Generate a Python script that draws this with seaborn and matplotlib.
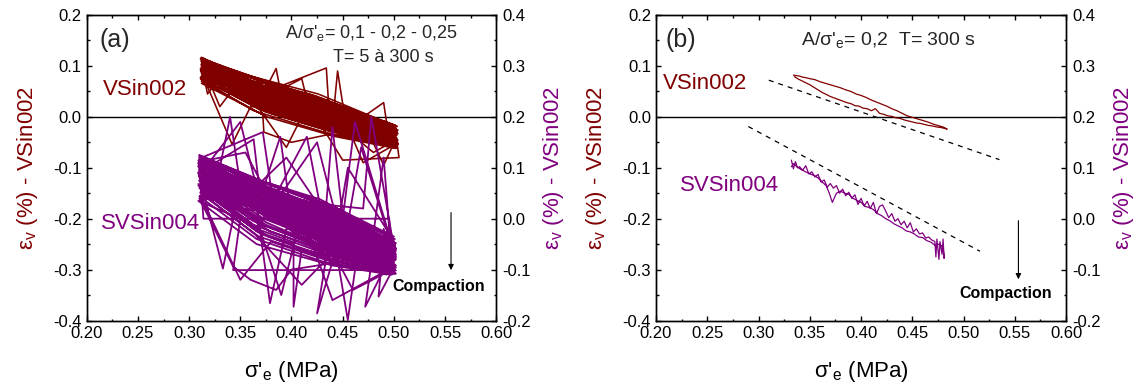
import matplotlib
matplotlib.use("Agg")
import matplotlib.pyplot as plt
from matplotlib.ticker import MultipleLocator, FormatStrFormatter
import pandas as pd
import seaborn as sns

# ---------------------------------------------------------------------------
# Data: (sigma'_e [MPa], eps_v [%]) pairs along each recorded path
# VSin002 values are read on the left axis, SVSin004 values on the right axis
# ---------------------------------------------------------------------------

# (a) A/sigma'e = 0,1 - 0,2 - 0,25 ; T = 5 to 300 s  -- VSin002 (left axis)
vsin002_a = [
    (0.312, 0.116), (0.372, 0.056), (0.440, 0.011), (0.503, -0.018), (0.418, 0.042),
    (0.313, 0.112), (0.370, 0.050), (0.438, 0.006), (0.502, -0.022), (0.421, 0.038),
    (0.312, 0.108), (0.375, 0.046), (0.442, 0.002), (0.503, -0.028), (0.416, 0.032),
    (0.314, 0.114), (0.368, 0.054), (0.436, 0.009), (0.501, -0.020), (0.424, 0.041),
    (0.312, 0.104), (0.318, 0.045), (0.328, 0.072), (0.373, 0.042), (0.444, -0.002),
    (0.503, -0.032), (0.419, 0.028),
    (0.313, 0.100), (0.377, 0.038), (0.439, -0.006), (0.502, -0.038), (0.422, 0.022),
    (0.312, 0.110), (0.371, 0.049), (0.441, 0.004), (0.504, -0.026), (0.415, 0.035),
    (0.311, 0.095), (0.374, 0.033), (0.437, -0.012), (0.502, -0.043), (0.490, -0.095),
    (0.475, -0.030), (0.420, 0.017),
    (0.312, 0.090), (0.369, 0.027), (0.440, -0.016), (0.445, 0.090), (0.452, 0.000),
    (0.503, -0.048), (0.423, 0.012),
    (0.313, 0.106), (0.376, 0.044), (0.443, 0.000), (0.501, -0.034), (0.417, 0.026),
    (0.312, 0.085), (0.372, 0.022), (0.438, -0.020), (0.503, -0.052), (0.470, -0.090),
    (0.455, -0.020), (0.421, 0.008),
    (0.314, 0.098), (0.370, 0.036), (0.385, 0.095), (0.392, 0.020), (0.442, -0.008),
    (0.502, -0.040), (0.418, 0.020),
    (0.312, 0.080), (0.375, 0.016), (0.436, -0.026), (0.503, -0.056), (0.424, 0.004),
    (0.313, 0.102), (0.330, 0.020), (0.345, 0.060), (0.373, 0.040), (0.441, -0.004),
    (0.502, -0.030), (0.416, 0.030),
    (0.312, 0.092), (0.371, 0.030), (0.439, -0.014), (0.504, -0.046), (0.420, 0.014),
    (0.311, 0.075), (0.374, 0.010), (0.440, -0.030), (0.473, 0.004), (0.490, 0.028),
    (0.495, -0.040), (0.502, -0.058), (0.422, 0.001),
    (0.312, 0.088), (0.368, 0.025), (0.437, -0.018), (0.503, -0.050), (0.505, -0.080),
    (0.450, -0.085), (0.430, -0.020), (0.418, 0.010),
    (0.313, 0.113), (0.376, 0.052), (0.443, 0.008), (0.501, -0.021), (0.423, 0.039),
    (0.312, 0.070), (0.372, 0.004), (0.373, -0.030), (0.400, -0.050), (0.438, -0.034),
    (0.502, -0.060), (0.419, -0.002),
    (0.314, 0.096), (0.370, 0.034), (0.410, 0.075), (0.418, 0.010), (0.441, -0.010),
    (0.503, -0.042), (0.421, 0.018),
    (0.312, 0.109), (0.375, 0.047), (0.439, 0.003), (0.502, -0.027), (0.417, 0.034),
    (0.313, 0.083), (0.342, -0.054), (0.360, 0.020), (0.371, 0.020), (0.436, -0.022),
    (0.504, -0.054), (0.424, 0.006),
    (0.312, 0.101), (0.373, 0.039), (0.442, -0.005), (0.503, -0.036), (0.420, 0.024),
    (0.311, 0.078), (0.369, 0.014), (0.395, -0.060), (0.410, 0.000), (0.440, -0.028),
    (0.502, -0.057), (0.422, 0.003),
    (0.312, 0.117), (0.374, 0.058), (0.444, 0.013), (0.501, -0.016), (0.418, 0.044),
    (0.313, 0.094), (0.372, 0.032), (0.438, -0.012), (0.503, -0.044), (0.480, -0.070),
    (0.462, -0.040), (0.421, 0.016),
    (0.312, 0.066), (0.376, 0.000), (0.441, -0.038), (0.502, -0.062), (0.423, -0.004),
    (0.314, 0.107), (0.370, 0.045), (0.434, 0.096), (0.437, 0.001), (0.503, -0.030),
    (0.416, 0.030),
    (0.312, 0.087), (0.373, 0.024), (0.443, -0.019), (0.504, -0.051), (0.420, 0.009),
    (0.313, 0.111), (0.371, 0.050), (0.440, 0.005), (0.502, -0.024), (0.419, 0.037),
    (0.312, 0.115), (0.366, 0.060), (0.430, 0.020), (0.502, -0.019), (0.426, 0.045),
    (0.313, 0.105), (0.380, 0.040), (0.446, -0.006), (0.503, -0.033), (0.412, 0.035),
    (0.312, 0.099), (0.362, 0.046), (0.434, -0.004), (0.501, -0.039), (0.428, 0.018),
    (0.311, 0.091), (0.379, 0.022), (0.447, -0.024), (0.503, -0.049), (0.414, 0.018),
    (0.312, 0.103), (0.367, 0.048), (0.432, 0.002), (0.502, -0.035), (0.427, 0.022),
    (0.313, 0.086), (0.378, 0.016), (0.445, -0.028), (0.504, -0.053), (0.413, 0.014),
    (0.312, 0.112), (0.365, 0.058), (0.433, 0.014), (0.501, -0.023), (0.426, 0.038),
    (0.314, 0.079), (0.381, 0.006), (0.448, -0.034), (0.503, -0.058), (0.411, 0.008),
    (0.312, 0.097), (0.364, 0.042), (0.431, -0.006), (0.502, -0.041), (0.428, 0.016),
    (0.313, 0.108), (0.379, 0.042), (0.446, 0.000), (0.503, -0.029), (0.412, 0.040),
    (0.312, 0.089), (0.366, 0.030), (0.434, -0.016), (0.501, -0.047), (0.425, 0.010),
    (0.311, 0.114), (0.377, 0.050), (0.445, 0.006), (0.503, -0.019), (0.413, 0.046),
    (0.312, 0.073), (0.363, 0.012), (0.432, -0.030), (0.502, -0.061), (0.427, -0.006),
    (0.313, 0.104), (0.380, 0.036), (0.447, -0.008), (0.504, -0.033), (0.414, 0.032),
    (0.312, 0.093), (0.367, 0.036), (0.435, -0.010), (0.502, -0.045), (0.426, 0.012),
    (0.312, 0.116), (0.378, 0.054), (0.444, 0.010), (0.501, -0.017), (0.415, 0.046),
    (0.313, 0.082), (0.365, 0.020), (0.433, -0.024), (0.503, -0.055), (0.424, 0.002),
    (0.312, 0.110),
]

# (a) SVSin004 (right axis)
svsin004_a = [
    (0.310, 0.125), (0.370, 0.075), (0.440, 0.025), (0.500, -0.035), (0.420, 0.035),
    (0.311, 0.118), (0.325, 0.050), (0.340, 0.200), (0.352, 0.040), (0.366, 0.060),
    (0.436, 0.005), (0.498, -0.050), (0.424, 0.025),
    (0.309, 0.110), (0.374, 0.045), (0.442, -0.010), (0.501, -0.060), (0.417, 0.015),
    (0.312, 0.122), (0.368, 0.070), (0.438, 0.015), (0.499, -0.045), (0.478, 0.200),
    (0.470, 0.020), (0.421, 0.030),
    (0.310, 0.100), (0.372, 0.030), (0.444, -0.025), (0.502, -0.070), (0.418, 0.005),
    (0.311, 0.105), (0.365, 0.040), (0.379, -0.166), (0.395, -0.020), (0.437, -0.015),
    (0.497, -0.065), (0.425, 0.010),
    (0.309, 0.090), (0.333, -0.098), (0.345, 0.020), (0.376, 0.015), (0.441, -0.040),
    (0.500, -0.080), (0.419, -0.005),
    (0.310, 0.115), (0.369, 0.055), (0.439, 0.000), (0.501, -0.055), (0.422, 0.020),
    (0.312, 0.080), (0.373, 0.000), (0.443, -0.055), (0.455, -0.199), (0.465, -0.060),
    (0.498, -0.090), (0.416, -0.015),
    (0.310, 0.095), (0.367, 0.022), (0.436, -0.032), (0.502, -0.075), (0.462, 0.190),
    (0.450, 0.000), (0.423, 0.000),
    (0.311, 0.070), (0.375, -0.015), (0.440, -0.065), (0.499, -0.095), (0.420, -0.025),
    (0.309, 0.108), (0.371, 0.050), (0.389, 0.161), (0.400, 0.000), (0.438, -0.005),
    (0.500, -0.062), (0.418, 0.012),
    (0.310, 0.060), (0.366, -0.025), (0.402, -0.050), (0.402, -0.173), (0.410, -0.060),
    (0.442, -0.075), (0.501, -0.100), (0.424, -0.032),
    (0.312, 0.085), (0.374, 0.008), (0.437, -0.048), (0.497, -0.085), (0.421, -0.010),
    (0.310, 0.120), (0.370, 0.065), (0.441, 0.010), (0.425, -0.186), (0.445, -0.050),
    (0.502, -0.048), (0.419, 0.028),
    (0.311, 0.050), (0.368, -0.035), (0.439, -0.082), (0.500, -0.105), (0.423, -0.040),
    (0.309, 0.102), (0.372, 0.035), (0.443, -0.020), (0.498, -0.068), (0.472, -0.173),
    (0.480, -0.060), (0.417, 0.008),
    (0.310, 0.075), (0.376, -0.008), (0.436, -0.060), (0.501, -0.092), (0.485, -0.153),
    (0.490, -0.040), (0.422, -0.020),
    (0.312, 0.112), (0.369, 0.052), (0.440, -0.002), (0.499, -0.058), (0.420, 0.018),
    (0.310, 0.040), (0.343, -0.094), (0.360, -0.120), (0.385, -0.140), (0.400, -0.100),
    (0.438, -0.088), (0.502, -0.108), (0.425, -0.048),
    (0.311, 0.092), (0.363, 0.156), (0.371, 0.018), (0.442, -0.036), (0.500, -0.078),
    (0.418, -0.002),
    (0.309, 0.065), (0.367, -0.020), (0.415, 0.161), (0.437, -0.070), (0.497, -0.098),
    (0.421, -0.028),
    (0.310, 0.124), (0.373, 0.072), (0.441, 0.020), (0.501, -0.040), (0.419, 0.032),
    (0.311, 0.082), (0.314, 0.000), (0.4955, 0.000), (0.4955, -0.060), (0.499, -0.088),
    (0.423, -0.012),
    (0.312, 0.055), (0.370, -0.030), (0.439, -0.078), (0.502, -0.102), (0.420, -0.036),
    (0.310, 0.098), (0.374, 0.025), (0.443, -0.028), (0.500, -0.072), (0.495, -0.101),
    (0.343, -0.101), (0.350, 0.000),
    (0.309, 0.035), (0.366, -0.050), (0.440, -0.092), (0.498, -0.110), (0.424, -0.052),
    (0.311, 0.088), (0.350, 0.190), (0.372, 0.012), (0.436, -0.044), (0.501, -0.082),
    (0.418, -0.008),
    (0.310, 0.106), (0.368, 0.042), (0.442, -0.012), (0.499, -0.064), (0.422, 0.014),
    (0.312, 0.072), (0.375, -0.012), (0.438, -0.062), (0.500, -0.094), (0.497, -0.080),
    (0.501, -0.050), (0.498, -0.100), (0.502, -0.060), (0.419, -0.022),
    (0.310, 0.116), (0.371, 0.058), (0.441, 0.002), (0.501, -0.052), (0.423, 0.022),
    (0.311, 0.062), (0.369, -0.022), (0.437, -0.072), (0.499, -0.099), (0.490, -0.020),
    (0.493, -0.110), (0.420, -0.030),
    (0.310, 0.122), (0.362, 0.078), (0.432, 0.030), (0.499, -0.038), (0.428, 0.038),
    (0.311, 0.112), (0.355, 0.130), (0.380, 0.035), (0.448, -0.020), (0.501, -0.058),
    (0.412, 0.022),
    (0.309, 0.104), (0.364, 0.048), (0.430, -0.004), (0.498, -0.066), (0.427, 0.004),
    (0.310, 0.094), (0.378, 0.010), (0.447, -0.045), (0.502, -0.080), (0.468, 0.140),
    (0.455, -0.010), (0.413, 0.000),
    (0.312, 0.086), (0.363, 0.020), (0.433, -0.040), (0.500, -0.086), (0.426, -0.012),
    (0.310, 0.118), (0.372, 0.170), (0.381, 0.048), (0.446, -0.004), (0.499, -0.050),
    (0.414, 0.030),
    (0.311, 0.078), (0.365, 0.004), (0.390, -0.150), (0.405, -0.030), (0.431, -0.055),
    (0.501, -0.090), (0.428, -0.020),
    (0.309, 0.068), (0.379, -0.025), (0.448, -0.072), (0.498, -0.098), (0.412, -0.022),
    (0.310, 0.109), (0.362, 0.056), (0.395, 0.120), (0.434, 0.004), (0.502, -0.058),
    (0.427, 0.012),
    (0.312, 0.058), (0.377, -0.035), (0.445, -0.085), (0.500, -0.104), (0.415, -0.032),
    (0.310, 0.097), (0.366, 0.032), (0.432, -0.022), (0.440, 0.180), (0.452, -0.030),
    (0.499, -0.072), (0.426, -0.004),
    (0.311, 0.045), (0.350, -0.120), (0.380, -0.045), (0.447, -0.090), (0.501, -0.108),
    (0.413, -0.044),
    (0.309, 0.114), (0.364, 0.062), (0.433, 0.008), (0.498, -0.046), (0.428, 0.024),
    (0.310, 0.083), (0.378, 0.000), (0.446, -0.058), (0.502, -0.092), (0.440, -0.160),
    (0.414, -0.014),
    (0.312, 0.066), (0.363, -0.012), (0.431, -0.064), (0.500, -0.100), (0.427, -0.026),
    (0.310, 0.101), (0.381, 0.022), (0.425, 0.150), (0.448, -0.032), (0.499, -0.076),
    (0.412, 0.004),
    (0.311, 0.052), (0.365, -0.032), (0.410, -0.130), (0.434, -0.080), (0.501, -0.106),
    (0.426, -0.040),
    (0.309, 0.091), (0.379, 0.010), (0.445, -0.046), (0.498, -0.086), (0.490, 0.120),
    (0.480, -0.030), (0.415, -0.008),
    (0.310, 0.074), (0.362, -0.004), (0.432, -0.058), (0.502, -0.096), (0.460, -0.140),
    (0.428, -0.018),
    (0.312, 0.120), (0.377, 0.058), (0.447, 0.006), (0.455, 0.100), (0.500, -0.044),
    (0.413, 0.036),
    (0.310, 0.044), (0.366, -0.040), (0.433, -0.086), (0.499, -0.108), (0.427, -0.046),
    (0.311, 0.110),
]

# (b) A/sigma'e = 0,2 ; T = 300 s  -- VSin002 (left axis), one load/unload loop
vsin002_b = [
    (0.334, 0.082), (0.337, 0.081), (0.340, 0.080), (0.343, 0.078), (0.346, 0.077),
    (0.350, 0.075), (0.355, 0.073), (0.360, 0.069), (0.365, 0.066), (0.370, 0.063),
    (0.375, 0.060), (0.380, 0.057), (0.385, 0.053), (0.390, 0.050), (0.395, 0.045),
    (0.400, 0.042), (0.405, 0.038), (0.410, 0.033), (0.415, 0.029), (0.420, 0.025),
    (0.425, 0.021), (0.430, 0.016), (0.435, 0.012), (0.440, 0.007), (0.445, 0.002),
    (0.450, -0.001), (0.455, -0.004), (0.460, -0.007), (0.465, -0.010), (0.470, -0.014),
    (0.475, -0.017), (0.480, -0.020), (0.484, -0.024),
    (0.482, -0.023), (0.478, -0.021), (0.474, -0.020), (0.470, -0.018), (0.466, -0.017),
    (0.462, -0.015), (0.458, -0.013), (0.454, -0.012), (0.450, -0.010), (0.446, -0.008),
    (0.442, -0.006), (0.438, -0.003), (0.434, -0.002), (0.430, 0.001), (0.426, 0.002),
    (0.422, 0.005), (0.418, 0.007), (0.414, 0.016), (0.410, 0.012), (0.406, 0.016),
    (0.402, 0.017), (0.398, 0.021), (0.394, 0.022), (0.390, 0.026), (0.386, 0.028),
    (0.382, 0.031), (0.378, 0.034), (0.374, 0.037), (0.370, 0.040), (0.366, 0.044),
    (0.362, 0.048), (0.358, 0.053), (0.354, 0.058), (0.350, 0.063), (0.346, 0.067),
    (0.342, 0.071), (0.338, 0.075), (0.335, 0.079),
]

# (b) SVSin004 (right axis)
svsin004_b = [
    (0.332, 0.115), (0.334, 0.098), (0.336, 0.112), (0.338, 0.100), (0.340, 0.102),
    (0.343, 0.095), (0.346, 0.104), (0.349, 0.088), (0.352, 0.092), (0.355, 0.082),
    (0.358, 0.087), (0.361, 0.072), (0.364, 0.076), (0.367, 0.062), (0.370, 0.069),
    (0.373, 0.060), (0.376, 0.065), (0.379, 0.050), (0.382, 0.058), (0.385, 0.045),
    (0.388, 0.052), (0.391, 0.040), (0.394, 0.047), (0.397, 0.028), (0.400, 0.040),
    (0.403, 0.025), (0.406, 0.034), (0.409, 0.020), (0.412, 0.032), (0.415, 0.010),
    (0.418, 0.024), (0.421, 0.027), (0.424, 0.015), (0.427, 0.002), (0.430, 0.010),
    (0.433, -0.005), (0.436, 0.000), (0.439, -0.012), (0.442, -0.005), (0.445, -0.018),
    (0.448, -0.008), (0.451, -0.026), (0.454, -0.020), (0.457, -0.030), (0.460, -0.028),
    (0.463, -0.038), (0.466, -0.036), (0.469, -0.042), (0.472, -0.045), (0.473, -0.075),
    (0.474, -0.040), (0.476, -0.080), (0.477, -0.045), (0.479, -0.070), (0.480, -0.040),
    (0.481, -0.078),
    (0.480, -0.055), (0.476, -0.050), (0.472, -0.052), (0.468, -0.046), (0.464, -0.043),
    (0.460, -0.037), (0.456, -0.036), (0.452, -0.030), (0.448, -0.026), (0.444, -0.024),
    (0.440, -0.018), (0.436, -0.014), (0.432, -0.010), (0.428, -0.004), (0.424, 0.000),
    (0.420, 0.006), (0.416, 0.010), (0.412, 0.018), (0.408, 0.022), (0.404, 0.024),
    (0.400, 0.032), (0.396, 0.036), (0.392, 0.040), (0.388, 0.048), (0.384, 0.050),
    (0.380, 0.054), (0.376, 0.050), (0.372, 0.032), (0.369, 0.050), (0.366, 0.065),
    (0.362, 0.072), (0.358, 0.080), (0.354, 0.085), (0.350, 0.088), (0.346, 0.092),
    (0.342, 0.096), (0.338, 0.101), (0.334, 0.108), (0.332, 0.102),
]

# (b) trend lines: VSin002 on the left axis, SVSin004 on the right axis
trend_vsin002_b = [(0.310, 0.072), (0.535, -0.084)]
trend_svsin004_b = [(0.290, 0.181), (0.516, -0.064)]

# ---------------------------------------------------------------------------
RED = "#800000"
PURPLE = "#800080"

sns.set_theme(style="ticks")
plt.rcParams["font.family"] = ["Liberation Sans", "DejaVu Sans"]
plt.rcParams["axes.unicode_minus"] = False
plt.rcParams["mathtext.default"] = "regular"

fig = plt.figure(figsize=(11.38, 3.87), dpi=100)


def frame(points):
    return pd.DataFrame(points, columns=["sigma", "eps"])


def style_axes(ax, ax2):
    ax.set_xlim(0.2, 0.6)
    ax.set_ylim(-0.4, 0.2)
    ax2.set_ylim(-0.2, 0.4)
    ax.xaxis.set_major_locator(MultipleLocator(0.05))
    ax.xaxis.set_minor_locator(MultipleLocator(0.025))
    ax.xaxis.set_major_formatter(FormatStrFormatter("%.2f"))
    for a in (ax, ax2):
        a.yaxis.set_major_locator(MultipleLocator(0.1))
        a.yaxis.set_minor_locator(MultipleLocator(0.05))
        a.yaxis.set_major_formatter(FormatStrFormatter("%.1f"))
        for s in a.spines.values():
            s.set_linewidth(1.0)
            s.set_color("black")
    ax.tick_params(axis="x", which="both", direction="in", top=True, bottom=True,
                   labelsize=12, pad=4, color="black", labelcolor="black")
    ax.tick_params(axis="y", which="both", direction="in", left=True, right=False,
                   labelsize=12, pad=3.5, color="black", labelcolor="black")
    ax2.tick_params(axis="y", which="both", direction="in", right=True, left=False,
                    labelsize=12, pad=4.5, color="black", labelcolor="black")
    for a in (ax, ax2):
        a.tick_params(which="major", length=3.6, width=1.0)
        a.tick_params(which="minor", length=1.8, width=1.0)
    ax.set_xlabel(r"σ'$_\mathregular{e}$ (MPa)", fontsize=16, color="black")
    ax.set_ylabel(r"ε$_\mathregular{v}$ (%) - VSin002", fontsize=16, color=RED)
    ax2.set_ylabel(r"ε$_\mathregular{v}$ (%) - VSin002", fontsize=16, color=PURPLE)
    ax.xaxis.set_label_coords(0.5, -0.125)
    ax.yaxis.set_label_coords(-0.115, 0.5)
    ax2.yaxis.set_label_coords(1.11, 0.5)
    ax.axhline(0.0, color="black", lw=1.0, zorder=1)
    ax.grid(False)
    ax2.grid(False)


def compaction(ax, x, y0, y1, ty):
    ax.annotate("", xy=(x, y1), xytext=(x, y0),
                arrowprops=dict(arrowstyle="-|>", color="black", lw=0.8,
                                mutation_scale=8, shrinkA=0, shrinkB=0))
    ax.text(x - 0.012, ty, "Compaction", fontsize=11.5, fontweight="bold",
            ha="center", va="center", color="black")


def trend(points, ax):
    sns.lineplot(data=frame(points), x="sigma", y="eps", sort=False, estimator=None,
                 color="black", lw=0.9, ax=ax, zorder=2)
    ax.lines[-1].set_dashes((4, 4))


# ---------------- panel (a) ----------------
ax_a = fig.add_axes([0.0762, 0.1718, 0.3599, 0.7894])
ax_a2 = ax_a.twinx()
sns.lineplot(data=frame(vsin002_a), x="sigma", y="eps", sort=False, estimator=None,
             color=RED, lw=1.15, ax=ax_a, zorder=2)
sns.lineplot(data=frame(svsin004_a), x="sigma", y="eps", sort=False, estimator=None,
             color=PURPLE, lw=1.3, ax=ax_a2, zorder=2)
style_axes(ax_a, ax_a2)
ax_a.text(0.212, 0.151, "(a)", fontsize=18, ha="left", va="center")
ax_a.text(0.216, 0.054, "VSin002", fontsize=16, color=RED, ha="left", va="center")
ax_a.text(0.214, -0.210, "SVSin004", fontsize=16, color=PURPLE, ha="left", va="center")
ax_a.text(0.478, 0.165, r"A/σ'$_\mathregular{e}$= 0,1 - 0,2 - 0,25", fontsize=13,
          ha="center", va="center")
ax_a.text(0.490, 0.116, "T= 5 à 300 s", fontsize=13, ha="center", va="center")
compaction(ax_a, 0.5558, -0.188, -0.301, -0.333)

# ---------------- panel (b) ----------------
ax_b = fig.add_axes([0.5765, 0.1718, 0.3603, 0.7894])
ax_b2 = ax_b.twinx()
sns.lineplot(data=frame(vsin002_b), x="sigma", y="eps", sort=False, estimator=None,
             color=RED, lw=0.9, ax=ax_b, zorder=2)
sns.lineplot(data=frame(svsin004_b), x="sigma", y="eps", sort=False, estimator=None,
             color=PURPLE, lw=0.9, ax=ax_b2, zorder=2)
trend(trend_vsin002_b, ax_b)
trend(trend_svsin004_b, ax_b2)
style_axes(ax_b, ax_b2)
ax_b.text(0.209, 0.151, "(b)", fontsize=18, ha="left", va="center")
ax_b.text(0.207, 0.066, "VSin002", fontsize=16, color=RED, ha="left", va="center")
ax_b.text(0.223, -0.134, "SVSin004", fontsize=16, color=PURPLE, ha="left", va="center")
ax_b.text(0.427, 0.150, r"A/σ'$_\mathregular{e}$= 0,2  T= 300 s", fontsize=14,
          ha="center", va="center")
compaction(ax_b, 0.5535, -0.204, -0.319, -0.346)

fig.savefig("out.png", dpi=100)
